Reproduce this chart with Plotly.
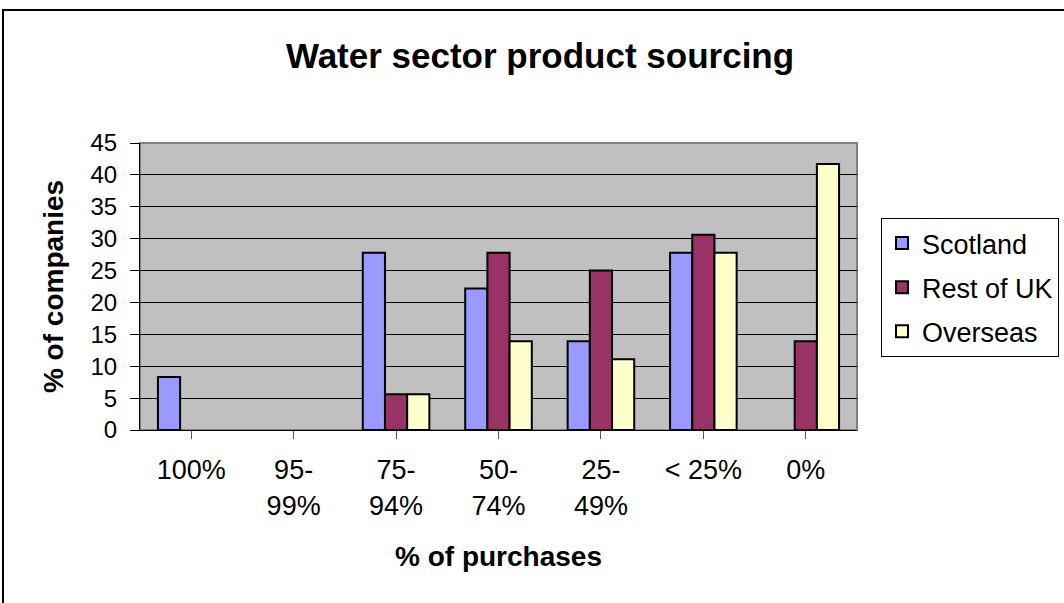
import plotly.graph_objects as go

categories = ["100%", "95-<br>99%", "75-<br>94%", "50-<br>74%", "25-<br>49%", "< 25%", "0%"]
scotland = [8.3, 0, 27.8, 22.2, 13.9, 27.8, 0]
rest_of_uk = [0, 0, 5.6, 27.8, 25.0, 30.6, 13.9]
overseas = [0, 0, 5.6, 13.9, 11.1, 27.8, 41.7]

series = [
    ("Scotland", scotland, "#9999FF"),
    ("Rest of UK", rest_of_uk, "#993366"),
    ("Overseas", overseas, "#FFFFCC"),
]

FONT = "Arial, Liberation Sans, sans-serif"
W, H = 1064, 603
L, R, T, B = 140, 857, 143, 430
pw, ph = R - L, B - T

def px(x):
    return (x - L) / pw

def py(y):
    return (B - y) / ph

fig = go.Figure()
for name, vals, col in series:
    fig.add_trace(go.Bar(
        name=name, legendgroup=name, x=list(range(len(categories))),
        y=[v if v else None for v in vals],
        marker=dict(color=col, line=dict(color="black", width=2)),
    ))

fig.update_layout(
    width=W, height=H,
    margin=dict(l=L, r=W - R, t=T, b=H - B, autoexpand=False),
    paper_bgcolor="white", plot_bgcolor="#C0C0C0",
    barmode="group", bargap=0.35, bargroupgap=0,
    font=dict(family=FONT, size=26, color="black"),
    title=dict(text="<b>Water sector product sourcing</b>", x=px(540), xref="paper",
               xanchor="center", y=1 - 56 / H, yanchor="middle",
               font=dict(family=FONT, size=35, color="black")),
    legend=dict(x=px(881), y=py(218), xanchor="left", yanchor="top",
                bgcolor="white", bordercolor="black", borderwidth=1,
                font=dict(family=FONT, size=27), tracegroupgap=6),
    showlegend=True,
)

fig.update_xaxes(
    tickmode="array", tickvals=list(range(len(categories))), ticktext=categories,
    range=[-0.5, len(categories) - 0.5],
    tickson="boundaries", ticks="outside", ticklen=8, tickcolor="#555555",
    showline=True, linecolor="black", linewidth=1, showgrid=False,
    tickfont=dict(family=FONT, size=27), ticklabelstandoff=8,
    title=dict(text="<b>% of purchases</b>", standoff=26,
               font=dict(family=FONT, size=28)),
)
fig.update_yaxes(
    range=[0, 45], dtick=5, tick0=0, ticks="outside", ticklen=9, tickcolor="black",
    showline=True, linecolor="black", linewidth=1,
    showgrid=True, gridcolor="black", gridwidth=1, zeroline=False,
    tickfont=dict(family=FONT, size=24), ticklabelstandoff=8,
    title=dict(text="<b>% of companies</b>", font=dict(family=FONT, size=28), standoff=18),
)

# gray border around top/right of plot area
fig.add_shape(type="rect", xref="paper", yref="paper", x0=0, x1=1, y0=0, y1=1,
              line=dict(color="#808080", width=2), layer="below")
# outer chart border (right and bottom edges fall outside the picture)
fig.add_shape(type="rect", xref="paper", yref="paper",
              x0=px(3), x1=px(1070), y0=py(610), y1=py(10),
              line=dict(color="black", width=2))

fig.write_html("out.html", config={"displayModeBar": False},
               post_script="document.body.style.margin='0';")
